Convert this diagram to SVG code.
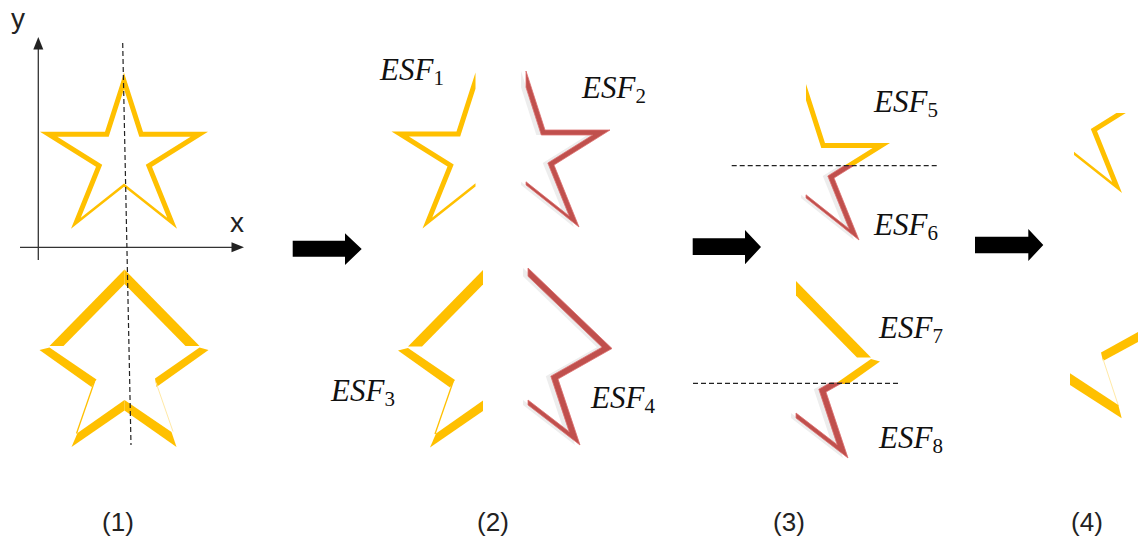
<svg xmlns="http://www.w3.org/2000/svg" width="1138" height="543" viewBox="0 0 1138 543">
<style>
.yel{fill:#FFC000}
.red{fill:#C0504D;stroke:#DC6E6E;stroke-width:0.8}
.shade{fill:#EDEDED}
.thin{stroke:#FFC000;stroke-width:1.3;fill:none}
.faint{stroke:#FFE9A6;stroke-width:1;fill:none}
.axis{stroke:#333;stroke-width:1.3;fill:none}
.dash{stroke:#222;stroke-width:1.2;fill:none;stroke-dasharray:5 3}
.arrow{fill:#000}
.esf{font-family:"Liberation Serif",serif;font-style:italic;font-size:31px;fill:#111}
.sub{font-size:21px;font-style:normal}
.cap{font-family:"Liberation Sans",sans-serif;font-size:26px;fill:#222;text-anchor:middle}
.ax{font-family:"Liberation Sans",sans-serif;font-size:28px;fill:#222}
</style>
<defs>
  <!-- outlined five-point star, apex at origin -->
  <path id="star" fill-rule="evenodd" d="M0,0 L19,59 L84,59 L28,94 L53,156 L0,114 L-53,156 L-28,94 L-84,59 L-19,59 Z M0,16.3 L15.3,64 L66.6,64 L21.8,92 L43.2,145 L0,110.8 L-43.2,145 L-21.8,92 L-66.6,64 L-15.3,64 Z"/>
  <!-- right half of the outlined star -->
  <path id="starR" d="M0,0 L19,59 L84,59 L28,94 L53,156 L0,114 L0,110.8 L43.2,145 L21.8,92 L66.6,64 L15.3,64 L0,16.3 Z"/>
  <!-- right half of the rotated star, as an even-width ring -->
  <path id="ringR" d="M0,0 L84,80.5 L30,111 L52,177 L0,137 L0,132 L41.2,163.7 L22.8,108.2 L74,79.2 L0,8.3 Z"/>
  <!-- rotated star, edge bands (right half) -->
  <g id="bsR">
    <path class="yel" d="M0,0 L75,76.5 L61,76.5 L0,14.5 Z"/>
    <path class="yel" d="M84,80.5 L75,78 L30.5,109 L32,117.5 Z"/>
    <path class="yel" d="M0,130.5 L47,162.5 L52,177.5 L0,141 Z"/>
    <line class="faint" x1="31.5" y1="113" x2="48.5" y2="162"/>
  </g>
  <!-- rotated star, edge bands (left half) -->
  <g id="bsL">
    <path class="yel" d="M0,0 L-75,76.5 L-61,76.5 L0,14.5 Z"/>
    <path class="yel" d="M-85,80.5 L-75,78 L-28,110 L-33,117.5 Z"/>
    <path class="yel" d="M0,130.5 L-47,163.5 L-53,177.5 L0,141 Z"/>
    <line class="thin" x1="-30" y1="112" x2="-48" y2="164"/>
  </g>
  <clipPath id="c5"><rect x="700" y="60" width="260" height="107"/></clipPath>
  <clipPath id="c6"><rect x="700" y="165" width="260" height="120"/></clipPath>
  <clipPath id="c7"><rect x="680" y="270" width="260" height="114"/></clipPath>
  <clipPath id="c8"><rect x="680" y="382.5" width="260" height="100"/></clipPath>
  <clipPath id="c9"><rect x="1074" y="113" width="70" height="90"/></clipPath>
</defs>

<!-- panel (1) -->
<g id="panel1">
  <use href="#star" class="yel" transform="translate(124,72.7)"/>
  <use href="#bsL" transform="translate(124.5,269.5)"/>
  <use href="#bsR" transform="translate(124.5,269.5)"/>
  <g id="axes">
    <line class="axis" x1="38.3" y1="48" x2="38.3" y2="260"/>
    <polygon points="38.3,37 33.3,49.5 43.3,49.5" fill="#222"/>
    <line class="axis" x1="20" y1="247.3" x2="233" y2="247.3"/>
    <polygon points="244,247.3 231.5,242.3 231.5,252.3" fill="#222"/>
    <text class="ax" x="11" y="27.5">y</text>
    <text class="ax" x="230" y="232">x</text>
  </g>
  <line class="dash" x1="122.7" y1="43" x2="131" y2="445" stroke-dasharray="4 3"/>
</g>

<!-- panel (2) -->
<g id="esf1">
  <use href="#starR" class="yel" transform="translate(475.5,72.5) scale(-1,1)"/>
  <text class="esf" x="380" y="80">ESF<tspan class="sub" dy="5">1</tspan></text>
</g>
<g id="esf2">
  <use href="#starR" class="shade" transform="translate(521,71)"/>
  <use href="#starR" class="red" transform="translate(526,71)"/>
  <text class="esf" x="582" y="98">ESF<tspan class="sub" dy="5">2</tspan></text>
</g>
<g id="esf3">
  <use href="#bsL" transform="translate(483,270)"/>
  <text class="esf" x="331" y="401">ESF<tspan class="sub" dy="5">3</tspan></text>
</g>
<g id="esf4">
  <use href="#ringR" class="shade" transform="translate(523,268)"/>
  <use href="#ringR" class="red" transform="translate(528,268)"/>
  <text class="esf" x="591" y="408">ESF<tspan class="sub" dy="5">4</tspan></text>
</g>

<!-- panel (3) -->
<g id="esf5">
  <g clip-path="url(#c5)"><use href="#starR" class="yel" transform="translate(806,84)"/></g>
  <text class="esf" x="874" y="112">ESF<tspan class="sub" dy="5">5</tspan></text>
</g>
<g id="esf6">
  <g clip-path="url(#c6)">
    <use href="#starR" class="shade" transform="translate(801,84)"/>
    <use href="#starR" class="red" transform="translate(806,84)"/>
  </g>
  <text class="esf" x="874" y="235">ESF<tspan class="sub" dy="5">6</tspan></text>
</g>
<g id="esf7">
  <g clip-path="url(#c7)"><use href="#bsR" transform="translate(796,281)"/></g>
  <text class="esf" x="879" y="338">ESF<tspan class="sub" dy="5">7</tspan></text>
</g>
<g id="esf8">
  <g clip-path="url(#c8)">
    <use href="#ringR" class="shade" transform="translate(791,281)"/>
    <use href="#ringR" class="red" transform="translate(796,281)"/>
  </g>
  <text class="esf" x="879" y="448">ESF<tspan class="sub" dy="5">8</tspan></text>
</g>
<line class="dash" x1="731.7" y1="165.7" x2="938.3" y2="165.7"/>
<line class="dash" x1="693" y1="383.3" x2="898" y2="383.3"/>

<!-- panel (4) -->
<g id="piece4a" clip-path="url(#c9)">
  <use href="#starR" class="yel" transform="translate(1069,37)"/>
</g>
<g id="piece4b">
  <path class="yel" d="M1138,332 L1101,352.5 L1103,361 L1138,342 Z"/>
  <line class="faint" x1="1103" y1="359" x2="1118.5" y2="406"/>
  <path class="yel" d="M1070,373.3 L1118.3,405 L1121.7,418.3 L1070,385 Z"/>
</g>

<!-- connectors: block arrows between stages -->
<g id="connectors">
  <polygon class="arrow" points="292.7,240.7 345,240.7 345,233.3 361.7,249 345,265 345,256.7 292.7,256.7"/>
  <polygon class="arrow" points="692.7,238.3 745,238.3 745,230 761,247 745,264.3 745,255 692.7,255"/>
  <polygon class="arrow" points="975,236.7 1028.3,236.7 1028.3,229 1043.3,245 1028.3,261 1028.3,253.3 975,253.3"/>
</g>

<!-- stage captions -->
<text class="cap" x="118" y="531">(1)</text>
<text class="cap" x="493" y="531">(2)</text>
<text class="cap" x="789" y="531">(3)</text>
<text class="cap" x="1087" y="531">(4)</text>
</svg>
